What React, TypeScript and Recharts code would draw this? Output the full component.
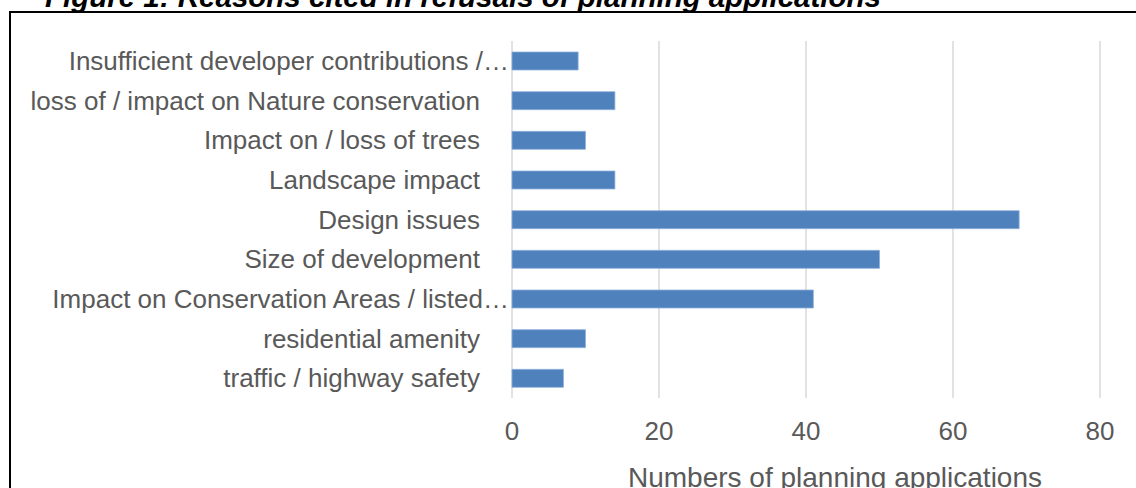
import { BarChart, Bar, XAxis, YAxis, CartesianGrid, Label } from "recharts";

const REASONS = [
  "Insufficient developer contributions /…",
  "loss of / impact on Nature conservation",
  "Impact on / loss of trees",
  "Landscape impact",
  "Design issues",
  "Size of development",
  "Impact on Conservation Areas / listed…",
  "residential amenity",
  "traffic / highway safety",
];
const COUNTS = [9, 14, 10, 14, 69, 50, 41, 10, 7];
const X_TICKS = [0, 20, 40, 60, 80];

const data = REASONS.map((name, i) => ({ name, count: COUNTS[i] }));

const FONT = "'Liberation Sans', Arial, sans-serif";
const GREY = "#595959";

// Excel lets truncated labels run up to the axis, so nudge those right
function ReasonTick(props: any) {
  const { x, y, payload } = props;
  const cut = String(payload.value).endsWith("…");
  return (
    <text x={x + (cut ? 29 : 0)} y={y} dy="0.355em" textAnchor="end" fill={GREY} fontSize={26}>
      {payload.value}
    </text>
  );
}

export default function App() {
  return (
    <div style={{ position: "absolute", left: 0, top: 0, width: 1136, height: 488, overflow: "hidden", background: "#fff", fontFamily: FONT }}>
      <div
        style={{
          position: "absolute", left: 45, top: -18, fontSize: 29.5, lineHeight: "29px",
          fontWeight: "bold", fontStyle: "italic", color: "#000", whiteSpace: "nowrap",
        }}
      >
        Figure 1: Reasons cited in refusals of planning applications
      </div>
      <div
        style={{
          position: "absolute", left: 9, top: 11, width: 1200, height: 600,
          borderTop: "2.5px solid #000", borderLeft: "2.5px solid #000",
        }}
      />
      <div style={{ position: "absolute", left: 0, top: 0 }}>
        <BarChart
          width={1136}
          height={488}
          data={data}
          layout="vertical"
          margin={{ top: 41, right: 36, bottom: 0, left: 0 }}
          style={{ fontFamily: FONT }}
        >
          <CartesianGrid horizontal={false} stroke="#d9d9d9" strokeWidth={1.5} />
          <XAxis
            type="number"
            domain={[0, 80]}
            ticks={X_TICKS}
            axisLine={false}
            tickLine={false}
            tickMargin={18}
            height={90}
            tick={{ fill: GREY, fontSize: 26 }}
          >
            <Label
              value="Numbers of planning applications"
              position="insideBottom"
              offset={1}
              dx={29}
              style={{ fill: GREY, fontSize: 28 }}
            />
          </XAxis>
          <YAxis
            type="category"
            dataKey="name"
            width={512}
            axisLine={false}
            tickLine={false}
            tickMargin={26}
            interval={0}
            tick={<ReasonTick />}
          />
          <Bar dataKey="count" fill="#4f81bd" stroke="#8eb0dc" strokeWidth={0.8} barSize={18} isAnimationActive={false} />
        </BarChart>
      </div>
    </div>
  );
}
